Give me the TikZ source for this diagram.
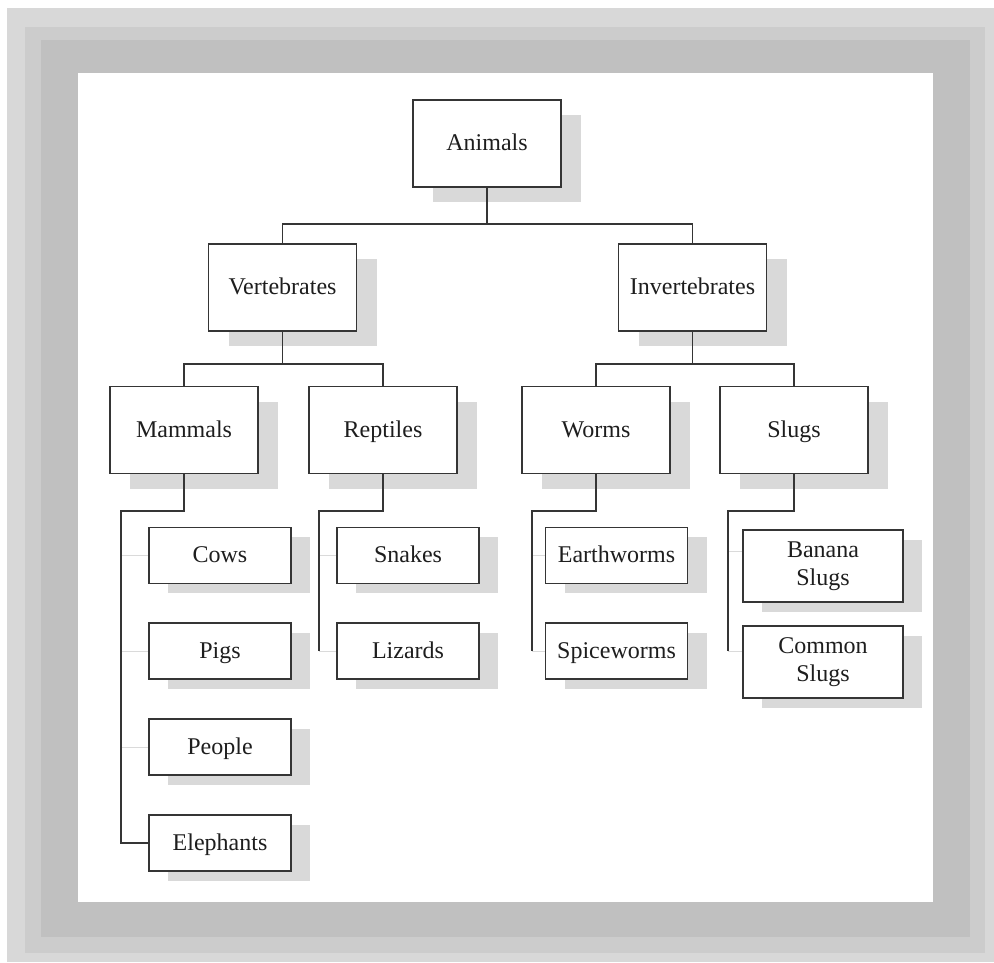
\documentclass[tikz,border=0pt]{standalone}
\usepackage{fontspec}
\setmainfont{Liberation Serif}
\usetikzlibrary{shadows}
\definecolor{fouter}{HTML}{D8D8D8}
\definecolor{fmid}{HTML}{CCCCCC}
\definecolor{fdark}{HTML}{C0C0C0}
\definecolor{shd}{HTML}{D9D9D9}
\definecolor{edge}{HTML}{353535}
\definecolor{tcol}{HTML}{1E1E1E}
\definecolor{faint}{HTML}{DADADA}
\tikzset{
  boxbase/.style={draw=edge, line width=0.85pt, fill=white, inner sep=0pt, text=tcol,
    font=\fontsize{12}{14}\selectfont},
  bigbox/.style={boxbase, minimum width=74pt, minimum height=43.5pt,
    text height=9pt, text depth=2pt,
    drop shadow={opacity=1, fill=shd, shadow xshift=10pt, shadow yshift=-7.5pt}},
  smallbox/.style={boxbase, minimum width=71pt, minimum height=28pt,
    text height=9pt, text depth=2pt,
    drop shadow={opacity=1, fill=shd, shadow xshift=9.5pt, shadow yshift=-4.75pt}},
  slugbox/.style={boxbase, minimum width=80pt, minimum height=36pt, align=center,
    drop shadow={opacity=1, fill=shd, shadow xshift=9.5pt, shadow yshift=-4.75pt}},
  conn/.style={draw=edge, line width=0.85pt},
  faintline/.style={draw=faint, line width=0.5pt}
}
\begin{document}
\begin{tikzpicture}[x=0.5pt, y=-0.5pt]
\useasboundingbox (0,0) rectangle (994,962);
\fill[white] (0,0) rectangle (994,962);
\fill[fouter] (7,8) rectangle (994,962);
\fill[fmid] (25,27) rectangle (985,953);
\fill[fdark] (41,40) rectangle (970,937);
\fill[white] (78,73) rectangle (933,902);

% level 0-1
\node[bigbox] (ani) at (487,143.5) {Animals};
\node[bigbox] (ver) at (282.5,287.5) {Vertebrates};
\node[bigbox] (inv) at (692.5,287.5) {Invertebrates};
% level 2
\node[bigbox] (mam) at (184,430) {Mammals};
\node[bigbox] (rep) at (383,430) {Reptiles};
\node[bigbox] (wor) at (596,430) {Worms};
\node[bigbox] (slu) at (794,430) {Slugs};
% leaves
\node[smallbox] (cow) at (220,555.5) {Cows};
\node[smallbox] (pig) at (220,651) {Pigs};
\node[smallbox] (peo) at (220,747) {People};
\node[smallbox] (ele) at (220,843) {Elephants};
\node[smallbox] (sna) at (408,555.5) {Snakes};
\node[smallbox] (liz) at (408,651) {Lizards};
\node[smallbox] (ear) at (616.5,555.5) {Earthworms};
\node[smallbox] (spi) at (616.5,651) {Spiceworms};
\node[slugbox] (ban) at (823,566) {Banana\\Slugs};
\node[slugbox] (com) at (823,662) {Common\\Slugs};

% junction coordinates
\coordinate (mj) at (121,511);
\coordinate (rj) at (319,511);
\coordinate (wj) at (532,511);
\coordinate (sj) at (728,511);
\coordinate (sj1) at (728,551);
\coordinate (sj2) at (728,651);

% tree connectors
\draw[conn] (ani.south) -- ++(0,36) -| (ver.north);
\draw[conn] (ani.south) ++(0,36) -| (inv.north);
\draw[conn] (ver.south) -- ++(0,32) -| (mam.north);
\draw[conn] (ver.south) ++(0,32) -| (rep.north);
\draw[conn] (inv.south) -- ++(0,32) -| (wor.north);
\draw[conn] (inv.south) ++(0,32) -| (slu.north);

% faint leaf ties
\draw[faintline] (mj |- cow.west) -- (cow.west);
\draw[faintline] (mj |- pig.west) -- (pig.west);
\draw[faintline] (mj |- peo.west) -- (peo.west);
\draw[faintline] (rj |- sna.west) -- (sna.west);
\draw[faintline] (rj |- liz.west) -- (liz.west);
\draw[faintline] (wj |- ear.west) -- (ear.west);
\draw[faintline] (wj |- spi.west) -- (spi.west);
\draw[faintline] (sj1) -- (sj1 -| ban.west);
\draw[faintline] (sj2) -- (sj2 -| com.west);

% vertical spines
\draw[conn] (mam.south) |- (mj) |- (ele.west);
\draw[conn] (rep.south) |- (rj) -- (rj |- liz.west);
\draw[conn] (wor.south) |- (wj) -- (wj |- spi.west);
\draw[conn] (slu.south) |- (sj) -- (sj2);
\end{tikzpicture}
\end{document}
